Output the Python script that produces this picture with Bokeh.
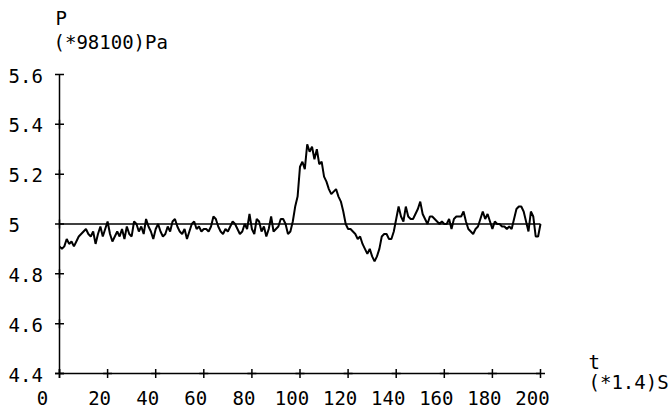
from bokeh.plotting import figure
from bokeh.models import Range1d
from bokeh.embed import file_html
from bokeh.resources import INLINE

# ---- data -------------------------------------------------------------
t_values = list(range(0, 201))
p_values = [
    4.91, 4.90, 4.91, 4.94, 4.92, 4.93, 4.91, 4.93, 4.95, 4.96,   # 0-9
    4.97, 4.98, 4.96, 4.95, 4.97, 4.92, 4.96, 4.99, 4.95, 4.98,   # 10-19
    5.01, 4.96, 4.93, 4.95, 4.97, 4.95, 4.98, 4.94, 4.99, 4.96,   # 20-29
    4.95, 5.01, 5.00, 4.97, 4.99, 4.96, 5.02, 4.99, 4.97, 4.94,   # 30-39
    4.98, 5.00, 4.97, 4.95, 4.96, 4.99, 4.97, 5.01, 5.02, 4.99,   # 40-49
    4.97, 4.96, 4.98, 4.94, 4.97, 5.00, 5.01, 4.98, 4.99, 4.97,   # 50-59
    4.98, 4.98, 4.97, 4.99, 5.03, 5.02, 4.99, 4.97, 4.96, 4.98,   # 60-69
    4.97, 4.99, 5.01, 5.00, 4.98, 4.96, 4.97, 5.00, 4.98, 5.04,   # 70-79
    4.98, 4.96, 5.02, 5.01, 4.97, 4.99, 4.95, 4.98, 5.03, 4.97,   # 80-89
    4.98, 4.99, 5.02, 5.02, 5.00, 4.96, 4.97, 5.01, 5.07, 5.11,   # 90-99
    5.23, 5.25, 5.22, 5.32, 5.29, 5.31, 5.26, 5.30, 5.24, 5.25,   # 100-109
    5.19, 5.17, 5.14, 5.12, 5.13, 5.14, 5.11, 5.09, 5.05, 5.00,   # 110-119
    4.98, 4.98, 4.97, 4.96, 4.94, 4.95, 4.92, 4.90, 4.88, 4.90,   # 120-129
    4.87, 4.85, 4.87, 4.90, 4.95, 4.96, 4.96, 4.94, 4.94, 4.97,   # 130-139
    5.02, 5.07, 5.03, 5.01, 5.07, 5.03, 5.02, 5.02, 5.04, 5.06,   # 140-149
    5.09, 5.04, 5.02, 5.00, 5.03, 5.03, 5.02, 5.01, 5.00, 5.01,   # 150-159
    5.00, 5.00, 5.02, 4.98, 5.02, 5.03, 5.03, 5.03, 5.05, 5.01,   # 160-169
    4.98, 4.97, 4.96, 4.98, 4.99, 5.02, 5.05, 5.02, 5.04, 5.01,   # 170-179
    4.98, 5.01, 5.00, 5.00, 4.99, 4.99, 4.98, 4.99, 4.98, 5.02,   # 180-189
    5.06, 5.07, 5.07, 5.05, 5.01, 4.97, 5.05, 5.03, 4.95, 4.95,   # 190-199
    5.00,                                                         # 200
]
reference_level = 5.0

x_ticks = [0, 20, 40, 60, 80, 100, 120, 140, 160, 180, 200]
x_tick_labels = ["0", "20", "40", "60", "80", "100", "120", "140", "160", "180", "200"]
y_ticks = [4.4, 4.6, 4.8, 5.0, 5.2, 5.4, 5.6]
y_tick_labels = ["4.4", "4.6", "4.8", "5", "5.2", "5.4", "5.6"]

y_title_1 = "P"
y_title_2 = "(*98100)Pa"
x_title_1 = "t"
x_title_2 = "(*1.4)S"

# ---- layout (pixels) --------------------------------------------------
W, H = 669, 408
AX_LEFT, AX_RIGHT, AX_TOP, AX_BOTTOM = 59, 540, 74, 373
x0, x1 = x_ticks[0], x_ticks[-1]
y0, y1 = y_ticks[0], y_ticks[-1]
sx = (AX_RIGHT - AX_LEFT) / (x1 - x0)
sy = (AX_BOTTOM - AX_TOP) / (y1 - y0)
xr = Range1d(x0 - AX_LEFT / sx, x0 + (W - AX_LEFT) / sx)
yr = Range1d(y0 - (H - AX_BOTTOM) / sy, y0 + AX_BOTTOM / sy)

FONT = "DejaVu Sans Mono"
FS = "19px"

p = figure(width=W, height=H, output_backend="svg", toolbar_location=None,
           x_range=xr, y_range=yr, min_border=0,
           x_axis_location=None, y_axis_location=None)
p.outline_line_color = None
p.grid.visible = False
p.background_fill_color = "white"
p.border_fill_color = "white"

# axes drawn through the data scales
p.line([x0, x1], [y0, y0], line_color="black", line_width=1.5)
p.line([x0, x0], [y0, y1], line_color="black", line_width=1.5)
p.scatter(x_ticks, [y0] * len(x_ticks), marker="cross", size=9,
          line_color="black", line_width=1.5)
p.scatter([x0] * (len(y_ticks) - 1), y_ticks[:-1], marker="cross", size=9,
          line_color="black", line_width=1.5)
p.scatter([x0], [y1], marker="dash", size=9, line_color="black", line_width=1.5)

# reference level
p.line([x0, x1], [reference_level, reference_level], line_color="black", line_width=1.5)

# series
p.line(t_values, p_values, line_color="black", line_width=2)

# tick labels
x_label_shift = [-17] + [-8] * (len(x_ticks) - 1)
p.text(x_ticks, [y0] * len(x_ticks), text=x_tick_labels,
       x_offset=x_label_shift, y_offset=24, text_align="center", text_baseline="middle",
       text_font={"value": FONT}, text_font_size={"value": FS}, text_color="black")
p.text([x0] * len(y_ticks), y_ticks, text=y_tick_labels,
       x_offset=-51, y_offset=1, text_align="left", text_baseline="middle",
       text_font={"value": FONT}, text_font_size={"value": FS}, text_color="black")

# axis titles
p.text([x0, x0], [y1, y1], text=[y_title_1, y_title_2],
       x_offset=[-4, -6], y_offset=[-57, -33], text_align="left", text_baseline="middle",
       text_font={"value": FONT}, text_font_size={"value": FS}, text_color="black")
p.text([x1, x1], [y0, y0], text=[x_title_1, x_title_2],
       x_offset=[48, 48], y_offset=[-12, 8], text_align="left", text_baseline="middle",
       text_font={"value": FONT}, text_font_size={"value": FS}, text_color="black")

open("out.html", "w").write(file_html(p, INLINE))
